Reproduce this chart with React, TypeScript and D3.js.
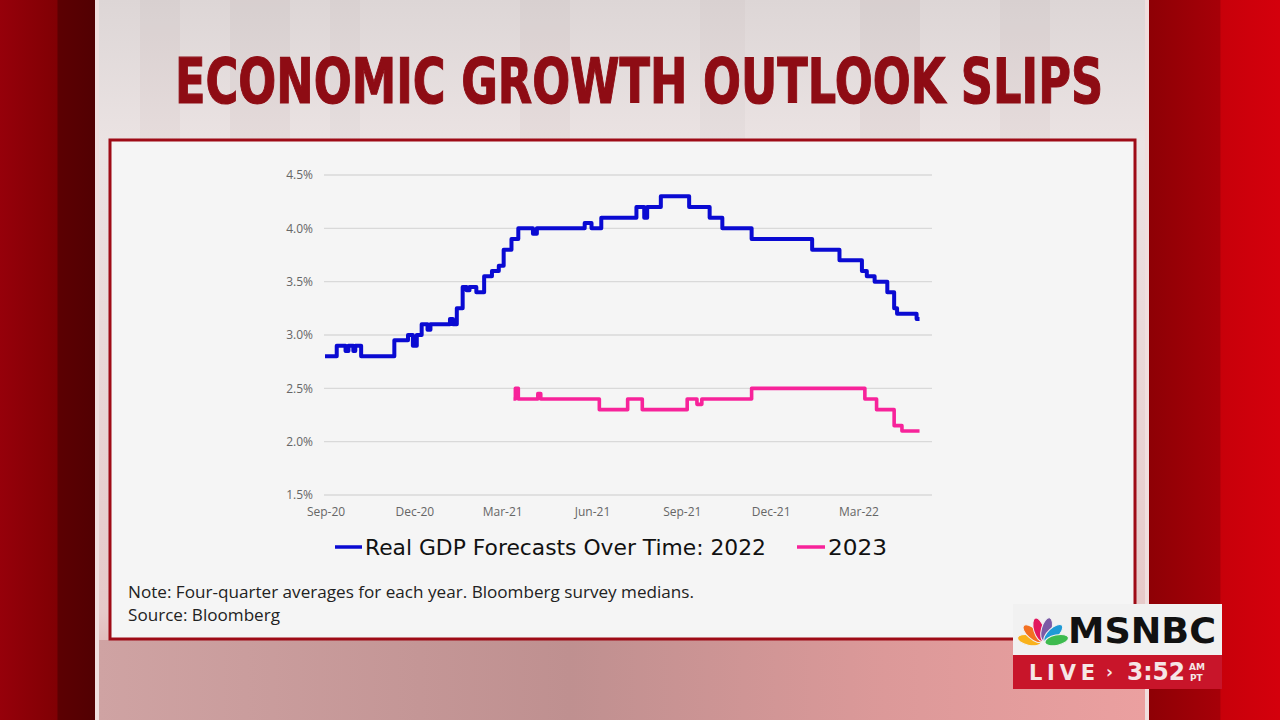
import React from "react";
import * as d3 from "d3";

// ---- Data ----
const series2022Dates = [
  "2020-08-31", "2020-09-12", "2020-09-21", "2020-09-24", "2020-09-29", "2020-10-01", "2020-10-07",
  "2020-11-10", "2020-11-24", "2020-11-29", "2020-12-03", "2020-12-08", "2020-12-14", "2020-12-17",
  "2021-01-06", "2021-01-09", "2021-01-13", "2021-01-19", "2021-01-23", "2021-01-26", "2021-02-02",
  "2021-02-10", "2021-02-18", "2021-02-25", "2021-03-02", "2021-03-10", "2021-03-17", "2021-04-01",
  "2021-04-05", "2021-05-24", "2021-05-31", "2021-06-10", "2021-07-16", "2021-07-24", "2021-07-27",
  "2021-08-10", "2021-09-08", "2021-09-29", "2021-10-12", "2021-11-11", "2022-01-12", "2022-02-09",
  "2022-03-04", "2022-03-09", "2022-03-17", "2022-03-30", "2022-04-06", "2022-04-09", "2022-04-29",
  "2022-05-02",
];
const series2022Values = [
  2.8, 2.9, 2.85, 2.9, 2.85, 2.9, 2.8,
  2.95, 3.0, 2.9, 3.0, 3.1, 3.05, 3.1,
  3.15, 3.1, 3.25, 3.45, 3.42, 3.45, 3.4,
  3.55, 3.6, 3.65, 3.8, 3.9, 4.0, 3.95,
  4.0, 4.05, 4.0, 4.1, 4.2, 4.1, 4.2,
  4.3, 4.2, 4.1, 4.0, 3.9, 3.8, 3.7,
  3.6, 3.55, 3.5, 3.4, 3.25, 3.2, 3.15,
  3.15,
];
const series2023Dates = [
  "2021-03-12", "2021-03-14", "2021-03-17", "2021-04-06", "2021-04-09", "2021-06-08", "2021-07-07",
  "2021-07-22", "2021-09-06", "2021-09-16", "2021-09-21", "2021-11-11", "2022-03-07", "2022-03-19",
  "2022-04-06", "2022-04-14", "2022-05-02",
];
const series2023Values = [
  2.4, 2.5, 2.4, 2.45, 2.4, 2.3, 2.4,
  2.3, 2.4, 2.35, 2.4, 2.5, 2.4, 2.3,
  2.15, 2.1, 2.1,
];
const xTickDates = ["2020-09-01", "2020-12-01", "2021-03-01", "2021-06-01", "2021-09-01", "2021-12-01", "2022-03-01"];
const yTicks = [1.5, 2.0, 2.5, 3.0, 3.5, 4.0, 4.5];
const legendLabels = ["Real GDP Forecasts Over Time: 2022", "2023"];
const titleText = "ECONOMIC GROWTH OUTLOOK SLIPS";
const noteText = "Note: Four-quarter averages for each year. Bloomberg survey medians.";
const sourceText = "Source: Bloomberg";

const parse = d3.timeParse("%Y-%m-%d");

export default function App() {
  const x = d3
    .scaleTime()
    .domain([parse("2020-09-01")!, parse("2022-03-01")!])
    .range([326, 859]);
  const y = d3.scaleLinear().domain([1.5, 4.5]).range([495, 175]);
  const xEnd = 932;

  const d22 = series2022Dates.map((d, i) => ({ d: parse(d)!, v: series2022Values[i] }));
  const d23 = series2023Dates.map((d, i) => ({ d: parse(d)!, v: series2023Values[i] }));
  const line = d3
    .line<{ d: Date; v: number }>()
    .x((p) => x(p.d))
    .y((p) => y(p.v))
    .curve(d3.curveStepAfter);
  const fmt = d3.timeFormat("%b-%y");
  const yFmt = d3.format(".1f");

  const blue = "#0a0ad2";
  const pink = "#f7239a";

  const feathers = [
    { c: "#f9b21b", a: -78 },
    { c: "#f37021", a: -48 },
    { c: "#e2165e", a: -17 },
    { c: "#7b5aa6", a: 15 },
    { c: "#1e9ad6", a: 47 },
    { c: "#3dbb4f", a: 78 },
  ];

  return (
    <svg
      width={1280}
      height={720}
      style={{ position: "absolute", left: 0, top: 0 }}
      xmlns="http://www.w3.org/2000/svg"
    >
      <defs>
        <linearGradient id="panelBg" x1="0" y1="0" x2="0" y2="1">
          <stop offset="0" stopColor="#ddd6d6" />
          <stop offset="0.2" stopColor="#ebe3e3" />
          <stop offset="0.85" stopColor="#e6c9c9" />
          <stop offset="1" stopColor="#d69c9c" />
        </linearGradient>
        <linearGradient id="bottomBg" x1="0" y1="0" x2="1" y2="0">
          <stop offset="0" stopColor="#cfa3a3" />
          <stop offset="0.45" stopColor="#bf9090" />
          <stop offset="0.75" stopColor="#dc9999" />
          <stop offset="1" stopColor="#eba0a0" />
        </linearGradient>
        <linearGradient id="leftRed" x1="0" y1="0" x2="1" y2="0">
          <stop offset="0" stopColor="#96000a" />
          <stop offset="0.6" stopColor="#800004" />
          <stop offset="0.61" stopColor="#5c0002" />
          <stop offset="1" stopColor="#520002" />
        </linearGradient>
        <linearGradient id="rightRed" x1="0" y1="0" x2="1" y2="0">
          <stop offset="0" stopColor="#8e0005" />
          <stop offset="0.54" stopColor="#a60008" />
          <stop offset="0.55" stopColor="#c8000a" />
          <stop offset="1" stopColor="#d4000c" />
        </linearGradient>
      </defs>

      {/* background scene */}
      <rect x={0} y={0} width={1280} height={720} fill="url(#panelBg)" />
      {[
        [140, 40, 0.05],
        [230, 60, 0.06],
        [330, 30, 0.04],
        [520, 50, 0.05],
        [700, 45, 0.04],
        [860, 60, 0.06],
        [1000, 50, 0.05],
      ].map(([sx, sw, op], i) => (
        <rect key={i} x={sx} y={0} width={sw} height={720} fill="#806060" opacity={op} />
      ))}
      <rect x={97} y={640} width={1050} height={80} fill="url(#bottomBg)" />
      <rect x={0} y={0} width={95} height={720} fill="url(#leftRed)" />
      <rect x={95} y={0} width={4} height={720} fill="#f0dede" />
      <rect x={1145} y={0} width={4} height={720} fill="#f0dede" />
      <rect x={1149} y={0} width={131} height={720} fill="url(#rightRed)" />

      {/* title */}
      <g transform="translate(175,103) scale(0.72,1)">
        <text
          x={0}
          y={0}
          textLength={1289}
          lengthAdjust="spacingAndGlyphs"
          fontFamily="'DejaVu Sans', sans-serif"
          fontWeight="bold"
          fontSize={62}
          fill="#8e0c14"
          stroke="#8e0c14"
          strokeWidth={1.2}
        >
          {titleText}
        </text>
      </g>

      {/* chart card */}
      <rect x={110} y={140} width={1025} height={499} fill="#f5f5f5" stroke="#9e0b16" strokeWidth={3} />

      {/* grid + y labels */}
      {yTicks.map((t) => (
        <g key={t}>
          <line x1={324} x2={xEnd} y1={y(t)} y2={y(t)} stroke="#d9d9d9" strokeWidth={1.3} />
          <text
            x={313}
            y={y(t)}
            dy="0.35em"
            textAnchor="end"
            fontFamily="'Open Sans', sans-serif"
            fontSize={12}
            fill="#666"
          >
            {yFmt(t)}%
          </text>
        </g>
      ))}
      {xTickDates.map((s) => {
        const dt = parse(s)!;
        return (
          <text
            key={s}
            x={x(dt)}
            y={516}
            textAnchor="middle"
            fontFamily="'Open Sans', sans-serif"
            fontSize={12}
            fill="#666"
          >
            {fmt(dt)}
          </text>
        );
      })}

      {/* lines */}
      <path d={line(d23) || ""} fill="none" stroke={pink} strokeWidth={3.6} strokeLinejoin="round" />
      <path d={line(d22) || ""} fill="none" stroke={blue} strokeWidth={4} strokeLinejoin="round" />

      {/* legend */}
      <line x1={335} x2={362} y1={547} y2={547} stroke={blue} strokeWidth={3.5} />
      <text
        x={365}
        y={555}
        textLength={401}
        lengthAdjust="spacingAndGlyphs"
        fontFamily="'DejaVu Sans', sans-serif"
        fontSize={22}
        fill="#111"
      >
        {legendLabels[0]}
      </text>
      <line x1={797} x2={825} y1={547} y2={547} stroke={pink} strokeWidth={3.5} />
      <text
        x={828}
        y={555}
        textLength={59}
        lengthAdjust="spacingAndGlyphs"
        fontFamily="'DejaVu Sans', sans-serif"
        fontSize={22}
        fill="#111"
      >
        {legendLabels[1]}
      </text>

      {/* note */}
      <text
        x={128}
        y={598}
        textLength={566}
        lengthAdjust="spacingAndGlyphs"
        fontFamily="'Open Sans', sans-serif"
        fontSize={15.5}
        fill="#222"
      >
        {noteText}
      </text>
      <text
        x={128}
        y={621}
        textLength={152}
        lengthAdjust="spacingAndGlyphs"
        fontFamily="'Open Sans', sans-serif"
        fontSize={15.5}
        fill="#222"
      >
        {sourceText}
      </text>

      {/* MSNBC bug */}
      <rect x={1013} y={604} width={209} height={52} fill="#f1f1f1" />
      <rect x={1013} y={655} width={209} height={34} fill="#c8152a" />
      <g transform="translate(1043,643)">
        {feathers.map((f) => (
          <ellipse
            key={f.c}
            cx={0}
            cy={-14}
            rx={5.2}
            ry={12}
            fill={f.c}
            stroke="#f1f1f1"
            strokeWidth={1}
            transform={`rotate(${f.a})`}
          />
        ))}
      </g>
      <text
        x={1068}
        y={643}
        textLength={148}
        lengthAdjust="spacingAndGlyphs"
        fontFamily="'DejaVu Sans', sans-serif"
        fontWeight="bold"
        fontSize={36}
        fill="#111"
      >
        MSNBC
      </text>
      <text
        x={1029}
        y={680}
        textLength={66}
        lengthAdjust="spacing"
        fontFamily="'DejaVu Sans', sans-serif"
        fontWeight="bold"
        fontSize={21}
        fill="#f6e6e6"
      >
        LIVE
      </text>
      <text
        x={1106}
        y={678}
        fontFamily="'DejaVu Sans', sans-serif"
        fontWeight="bold"
        fontSize={17}
        fill="#f6e6e6"
      >
        ›
      </text>
      <text
        x={1127}
        y={680}
        textLength={58}
        lengthAdjust="spacingAndGlyphs"
        fontFamily="'DejaVu Sans', sans-serif"
        fontWeight="bold"
        fontSize={24}
        fill="#f6e6e6"
      >
        3:52
      </text>
      <text x={1189} y={670} fontFamily="'DejaVu Sans', sans-serif" fontWeight="bold" fontSize={9} fill="#f6e6e6">
        AM
      </text>
      <text x={1190} y={681} fontFamily="'DejaVu Sans', sans-serif" fontWeight="bold" fontSize={9} fill="#f6e6e6">
        PT
      </text>
    </svg>
  );
}
